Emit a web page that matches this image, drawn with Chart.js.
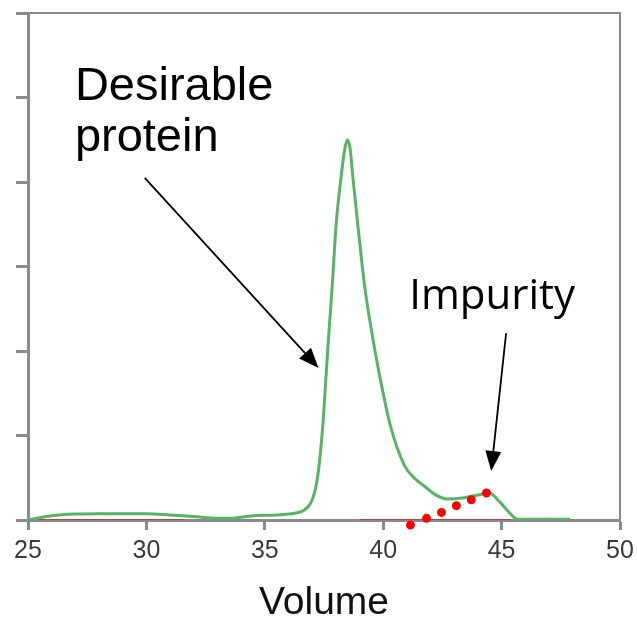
<!DOCTYPE html>
<html><head><meta charset="utf-8">
<script src="https://cdn.jsdelivr.net/npm/chart.js@4"></script>
<style>html,body{margin:0;padding:0;background:#fff;overflow:hidden}</style>
</head><body>
<canvas id="c" width="637" height="617"></canvas>
<script>
// ---- data ----
const greenVolume = [25.0, 26.0, 27.0, 28.0, 29.0, 30.0, 31.0, 32.0, 33.0, 33.5, 34.5, 35.5, 36.0, 36.26,
  36.68, 37.03, 37.24, 37.45, 37.59, 37.73, 37.85, 38.01, 38.23, 38.37, 38.49, 38.61, 38.71,
  38.93, 39.21, 39.5, 39.84, 40.3, 40.89, 41.3, 41.74, 42.2, 42.66, 43.34, 44.06, 44.48, 44.9, 45.32, 45.65,
  46.0, 47.0, 47.9];
const greenSignal = [0.0, 0.05, 0.07, 0.075, 0.075, 0.075, 0.06, 0.04, 0.02, 0.02, 0.05, 0.06, 0.07, 0.08,
  0.12, 0.26, 0.53, 1.12, 1.72, 2.31, 2.78, 3.49, 4.08, 4.38, 4.5, 4.38, 4.08,
  3.49, 2.78, 2.25, 1.72, 1.12, 0.65, 0.5, 0.4, 0.3, 0.25, 0.26, 0.3, 0.32, 0.22, 0.09, 0.01,
  0.01, 0.01, 0.01];
const redBaseVolume = [25.2, 31.6, null, 39.0, 45.4];
const redBaseSignal = [0, 0, null, 0, 0];
const dotVolume = [41.15, 41.83, 42.46, 43.09, 43.72, 44.36];
const dotSignal = [-0.06, 0.02, 0.09, 0.17, 0.24, 0.32];
const xTicks = [25, 30, 35, 40, 45, 50];
const yTicks = [0, 1, 2, 3, 4, 5, 6];
const xTitle = 'Volume';
const labelLines = [
  {text: 'Desirable', x: 26.98, y: 4.97, font: '47px "Liberation Sans", Arial, sans-serif'},
  {text: 'protein', x: 26.98, y: 4.37, font: '47px "Liberation Sans", Arial, sans-serif'},
  {text: 'Impurity', x: 41.1, y: 2.5, font: '42px "Open Sans", sans-serif'}
];
const arrows = [
  {x0: 29.93, y0: 4.05, x1: 37.27, y1: 1.80},
  {x0: 45.19, y0: 2.21, x1: 44.56, y1: 0.58}
];

const pts = (xs, ys) => xs.map((x, i) => x === null ? {x: null, y: null} : ({x: x, y: ys[i]}));

const annotate = {
  id: 'annotate',
  afterDatasetsDraw(chart) {
    const {ctx, scales: {x, y}} = chart;
    ctx.save();
    ctx.fillStyle = '#000';
    ctx.textBaseline = 'alphabetic';
    ctx.textAlign = 'left';
    labelLines.forEach(l => {
      ctx.font = l.font;
      ctx.fillText(l.text, x.getPixelForValue(l.x), y.getPixelForValue(l.y));
    });
    ctx.strokeStyle = '#000';
    ctx.lineWidth = 1.8;
    arrows.forEach(a => {
      const px0 = x.getPixelForValue(a.x0), py0 = y.getPixelForValue(a.y0);
      const px1 = x.getPixelForValue(a.x1), py1 = y.getPixelForValue(a.y1);
      const ang = Math.atan2(py1 - py0, px1 - px0);
      const L = 20, W = 8;
      const bx = px1 - L * Math.cos(ang), by = py1 - L * Math.sin(ang);
      ctx.beginPath(); ctx.moveTo(px0, py0); ctx.lineTo(bx, by); ctx.stroke();
      ctx.beginPath();
      ctx.moveTo(px1, py1);
      ctx.lineTo(bx + W * Math.sin(ang), by - W * Math.cos(ang));
      ctx.lineTo(bx - W * Math.sin(ang), by + W * Math.cos(ang));
      ctx.closePath(); ctx.fill();
    });
    ctx.restore();
  }
};

const frame = {
  id: 'frame',
  beforeDatasetsDraw(chart) {
    const {ctx, chartArea: a} = chart;
    ctx.save();
    ctx.strokeStyle = '#8a8a8a';
    ctx.lineWidth = 2;
    ctx.beginPath();
    ctx.moveTo(a.left, a.top); ctx.lineTo(a.right, a.top); ctx.lineTo(a.right, a.bottom);
    ctx.stroke();
    ctx.restore();
  }
};

new Chart(document.getElementById('c'), {
  type: 'scatter',
  data: {
    datasets: [
      {data: pts(redBaseVolume, redBaseSignal), showLine: true, borderColor: '#b84545', borderWidth: 2,
       pointRadius: 0, spanGaps: false, order: 3},
      {data: pts(greenVolume, greenSignal), showLine: true, borderColor: '#55b565', borderWidth: 3,
       pointRadius: 0, cubicInterpolationMode: 'monotone', order: 2},
      {data: pts(dotVolume, dotSignal), showLine: false, pointRadius: 3, pointBorderWidth: 3,
       pointBackgroundColor: '#ff0000', pointBorderColor: '#ff0000', clip: false, order: 1}
    ]
  },
  options: {
    responsive: false,
    animation: false,
    devicePixelRatio: 1,
    layout: {padding: {top: 13, right: 17, left: 0, bottom: 0}},
    plugins: {legend: {display: false}, tooltip: {enabled: false}},
    scales: {
      x: {
        type: 'linear', min: 25, max: 50,
        afterBuildTicks: s => { s.ticks = xTicks.map(v => ({value: v})); },
        afterFit: s => { s.height = 97; s.paddingLeft = 0; s.paddingRight = 0; },
        grid: {drawOnChartArea: false, tickLength: 10, tickColor: '#8a8a8a', tickWidth: 3},
        border: {color: '#8a8a8a', width: 3},
        ticks: {color: '#3a3a3a', font: {family: '"Liberation Sans", Arial, sans-serif', size: 25}, padding: 6},
        title: {display: true, text: xTitle, color: '#111',
                font: {family: '"Liberation Sans", Arial, sans-serif', size: 39}, padding: {top: 0, bottom: -10}}
      },
      y: {
        type: 'linear', min: 0, max: 6,
        afterBuildTicks: s => { s.ticks = yTicks.map(v => ({value: v})); },
        afterFit: s => { s.width = 28; },
        grid: {drawOnChartArea: false, tickLength: 12, tickColor: '#8a8a8a', tickWidth: 3},
        border: {color: '#8a8a8a', width: 3},
        ticks: {display: false}
      }
    }
  },
  plugins: [frame, annotate]
});
</script>
</body></html>
